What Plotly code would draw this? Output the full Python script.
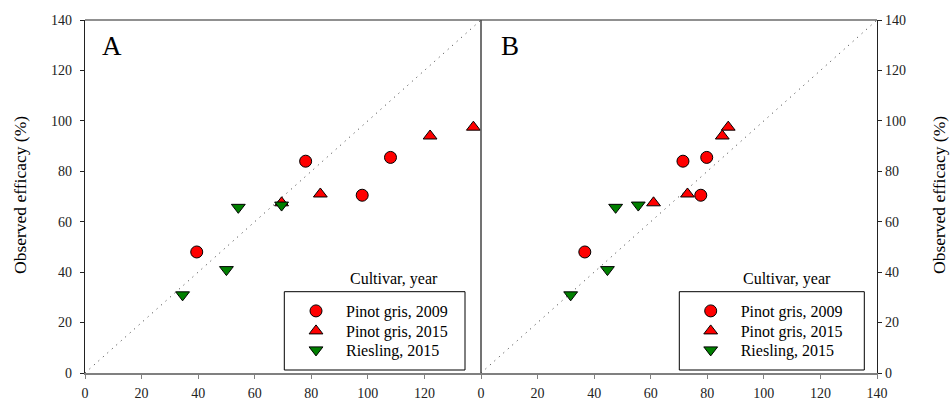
import plotly.graph_objects as go

# ---------------- data ----------------
series_names = ["Pinot gris, 2009", "Pinot gris, 2015", "Riesling, 2015"]
observed_pg2009 = [48, 84, 70.5, 85.5]
observed_pg2015 = [67.5, 71, 94, 97.5]
observed_ri2015 = [31, 41, 65.7, 66.6]

predA_pg2009 = [39.5, 78, 98, 108]
predA_pg2015 = [69.5, 83.2, 122, 137.3]
predA_ri2015 = [34.5, 50, 54.2, 69.5]

predB_pg2009 = [36.7, 71.4, 77.7, 79.8]
predB_pg2015 = [61, 73, 85.3, 87.4]
predB_ri2015 = [31.7, 44.7, 47.6, 55.6]

one_to_one = [0, 140]
ticksA = [0, 20, 40, 60, 80, 100, 120]
ticksB = [0, 20, 40, 60, 80, 100, 120, 140]
yticks = [0, 20, 40, 60, 80, 100, 120, 140]

# ---------------- layout helpers ----------------
W, H = 951, 401
L, R, T, B = 85, 74, 20, 28
PW, PH = W - L - R, H - T - B


def px(xw):
    """window pixel x -> paper fraction"""
    return (xw - L) / PW


def py(yw):
    """window pixel y -> paper fraction"""
    return (H - B - yw) / PH


FONT = "Liberation Serif, Times New Roman, serif"
RED, GREEN = "#FF0000", "#008000"
symbols = ["circle", "triangle-up", "triangle-down"]
colors = [RED, RED, GREEN]

fig = go.Figure()

# 1:1 lines
for xa, ya in (("x", "y"), ("x2", "y2")):
    fig.add_trace(go.Scatter(x=one_to_one, y=one_to_one, mode="lines",
                             line=dict(color="#333333", width=1, dash="1px,5px"),
                             xaxis=xa, yaxis=ya, showlegend=False, hoverinfo="skip"))

obs = [observed_pg2009, observed_pg2015, observed_ri2015]
predA = [predA_pg2009, predA_pg2015, predA_ri2015]
predB = [predB_pg2009, predB_pg2015, predB_ri2015]

legend_ids = []
k = 0
for panel, preds, xa, ya in (("A", predA, "x", "y"), ("B", predB, "x2", "y2")):
    for i in range(3):
        k += 1
        lid = "legend" if k == 1 else f"legend{k}"
        legend_ids.append(lid)
        fig.add_trace(go.Scatter(
            x=preds[i], y=obs[i], mode="markers", name=series_names[i],
            marker=dict(symbol=symbols[i], size=12, color=colors[i],
                        line=dict(color="black", width=1)),
            xaxis=xa, yaxis=ya, legend=lid, showlegend=True))

# legends (one per entry for exact row placement)
row_y = [311, 331, 350]
legend_left_px = {"A": 286, "B": 680.7}
layout_legends = {}
k = 0
for panel in ("A", "B"):
    for i in range(3):
        lid = legend_ids[k]
        k += 1
        layout_legends[lid] = dict(
            x=px(legend_left_px[panel]), y=py(row_y[i]),
            xanchor="left", yanchor="middle", xref="paper", yref="paper",
            bgcolor="rgba(0,0,0,0)", borderwidth=0, itemwidth=50,
            font=dict(family=FONT, size=16, color="black"))

axis_common = dict(range=[0, 140], showgrid=False, zeroline=False,
                   ticks="outside", ticklen=4, tickwidth=1,
                   tickfont=dict(family=FONT, size=14, color="#222222"),
                   fixedrange=True, automargin=False)

fig.update_layout(
    width=W, height=H,
    margin=dict(l=L, r=R, t=T, b=B),
    paper_bgcolor="white", plot_bgcolor="white",
    xaxis=dict(domain=[0, 0.5], anchor="y", tickvals=ticksA,
               showline=True, linecolor="#808080", linewidth=1.5,
               tickcolor="#808080", ticklabelstandoff=2, **axis_common),
    xaxis2=dict(domain=[0.5, 1], anchor="y2", tickvals=ticksB,
                showline=True, linecolor="#808080", linewidth=1.5,
                tickcolor="#808080", ticklabelstandoff=2, **axis_common),
    yaxis=dict(domain=[0, 1], anchor="x", side="left", tickvals=yticks,
               showline=True, linecolor="#222222", linewidth=1.2,
               tickcolor="#222222", ticklabelstandoff=5, **axis_common),
    yaxis2=dict(domain=[0, 1], anchor="x2", side="right", tickvals=yticks,
                showline=True, linecolor="#222222", linewidth=1.2,
                tickcolor="#222222", **axis_common),
    showlegend=True,
    **layout_legends,
)

# frame lines: top border and panel divider
fig.add_shape(type="line", xref="paper", yref="paper", x0=0, x1=1, y0=1, y1=1,
              line=dict(color="#222222", width=1.2))
fig.add_shape(type="line", xref="paper", yref="paper", x0=0.5, x1=0.5, y0=0, y1=1,
              line=dict(color="#444444", width=1.5))

# legend boxes
for x0p, x1p in ((284.3, 465), (679.3, 864.3)):
    fig.add_shape(type="rect", xref="paper", yref="paper",
                  x0=px(x0p), x1=px(x1p), y0=py(370), y1=py(291.7),
                  line=dict(color="black", width=1), fillcolor="rgba(0,0,0,0)")

annotations = [
    dict(text="Cultivar, year", x=px(394), y=py(279)),
    dict(text="Cultivar, year", x=px(786.7), y=py(279)),
]
for a in annotations:
    a.update(xref="paper", yref="paper", showarrow=False, xanchor="center",
             yanchor="middle", font=dict(family=FONT, size=16, color="black"))
    fig.add_annotation(**a)

for lab, xl in (("A", 100), ("B", 499)):
    fig.add_annotation(text=lab, x=px(xl), y=py(46), xref="paper", yref="paper",
                       showarrow=False, xanchor="left", yanchor="middle",
                       font=dict(family=FONT, size=27, color="black"))

for xc in (20.5, 939.5):
    fig.add_annotation(text="Observed efficacy (%)", x=px(xc), y=py(195.5),
                       xref="paper", yref="paper", showarrow=False, textangle=-90,
                       xanchor="center", yanchor="middle",
                       font=dict(family=FONT, size=17.5, color="black"))

fig.write_html(
    "out.html",
    config={"displayModeBar": False},
    post_script="document.body.style.margin='0';document.body.style.overflow='hidden';",
)
